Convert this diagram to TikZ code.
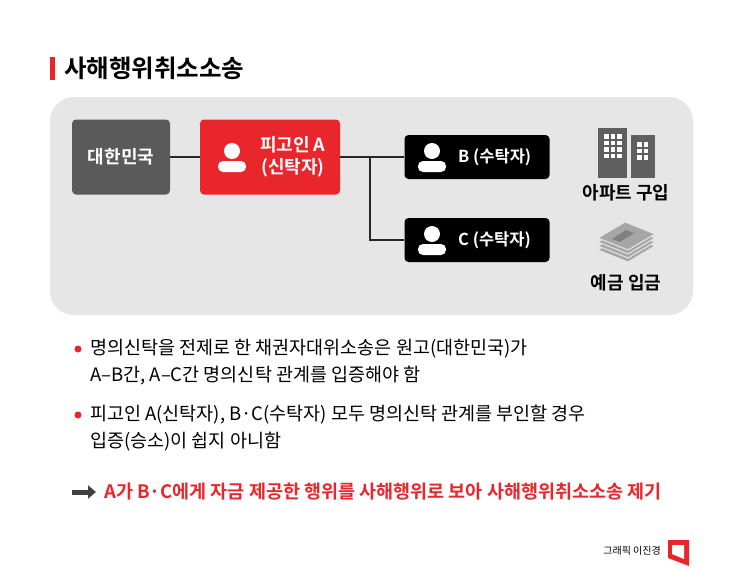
\documentclass[tikz,border=0pt]{standalone}
\usepackage{fontspec}
\setmainfont{Noto Sans CJK KR}[BoldFont={* Bold}]
\usepackage{tikz}
\usetikzlibrary{positioning,arrows.meta,calc}
\definecolor{hanred}{HTML}{E8262C}
\definecolor{boxdark}{HTML}{5A5A5A}
\definecolor{panel}{HTML}{E6E6E6}
\definecolor{icongray}{HTML}{5F5F5F}
\tikzset{
  party/.style={rectangle,rounded corners=4pt,minimum height=44pt,text=white,font=\bfseries\fontsize{18}{22}\selectfont,align=center},
  link/.style={line width=1.3pt,black!85},
  bulletline/.style={anchor=west,font=\fontsize{18.5}{22}\selectfont,inner sep=0pt}
}
\newcommand{\personicon}[1]{%
  \fill[white] ($(#1)+(0,-6)$) circle (8pt);
  \fill[white,rounded corners=5pt] ($(#1)+(-14,15)$) rectangle ($(#1)+(14,4)$);
}
\begin{document}
\begin{tikzpicture}[x=1pt,y=-1pt]
      % Cadre
      \useasboundingbox[fill=white] (0,0) rectangle (745,568);
      \fill[hanred] (50,57) rectangle (55,80);
      \node[anchor=west,font=\bfseries\fontsize{24.5}{26}\selectfont,inner sep=0pt] (titre) at (64,68) {사해행위취소소송};
      \fill[panel,rounded corners=24pt] (50,97) rectangle (693,315);

      % Les parties
      \node[party,fill=boxdark,minimum width=98pt,minimum height=75pt] (etat) at (121,157) {대한민국};
      \node[party,fill=hanred,minimum width=140pt,minimum height=75pt] (defA) at (270,157) {};
      \node[party,anchor=west,inner sep=0pt] (defAtxt) at (260,157) {피고인 A\\(신탁자)};
      \personicon{232,157}
      \node[party,fill=black,minimum width=145pt] (fidB) at (477,157) {};
      \node[party,anchor=west,inner sep=0pt,font=\bfseries\fontsize{16.5}{20}\selectfont] (fidBtxt) at (458,157) {B (수탁자)};
      \personicon{432,157}
      \node[party,fill=black,minimum width=145pt] (fidC) at (477,240) {};
      \node[party,anchor=west,inner sep=0pt,font=\bfseries\fontsize{16.5}{20}\selectfont] (fidCtxt) at (458,240) {C (수탁자)};
      \personicon{432,240}
      \coordinate (fork) at (370,157);

      % Liaisons
      \draw[link] (etat) -- (defA);
      \draw[link] (defA) -- (fork) -- (fidB);
      \draw[link] (fork) |- (fidC);

      % Icônes
      \fill[icongray] (598,128) rectangle (627,178);
      \fill[icongray] (631,135) rectangle (655,178);
      \foreach \i in {0,1,2} \foreach \j in {0,1,2,3}
        \fill[white] (604+\i*6.5,134+\j*6.5) rectangle +(4.5,4.5);
      \foreach \i in {0,1} \foreach \j in {0,1,2}
        \fill[white] (637+\i*6.5,142+\j*6.5) rectangle +(4.5,4.5);
      \node[font=\bfseries\fontsize{18}{20}\selectfont] (achat) at (626,193) {아파트 구입};
      \foreach \k in {0,1,2,3}
        \filldraw[fill=black!35,draw=panel,line width=1pt] (598,{250-\k*4}) -- (628,{262-\k*4}) -- (655,{246-\k*4}) -- (625,{234-\k*4}) -- cycle;
      \fill[black!50] (612,{239}) -- (620,242) -- (634,233) -- (626,230) -- cycle;
      \node[font=\bfseries\fontsize{18}{20}\selectfont] (depot) at (626,283) {예금 입금};

      % Texte
      \fill[hanred] (78,349) circle (3.5pt);
      \node[bulletline] (p1a) at (90,349) {명의신탁을 전제로 한 채권자대위소송은 원고(대한민국)가};
      \node[bulletline] (p1b) at (90,376) {A–B간, A–C간 명의신탁 관계를 입증해야 함};
      \fill[hanred] (78,415) circle (3.5pt);
      \node[bulletline] (p2a) at (90,415) {피고인 A(신탁자), B·C(수탁자) 모두 명의신탁 관계를 부인할 경우};
      \node[bulletline] (p2b) at (90,442) {입증(승소)이 쉽지 아니함};
      \draw[line width=5pt,black!75,-{Triangle[length=8pt,width=13pt]}] (72,492) -- (96,492);
      \node[bulletline,font=\bfseries\fontsize{18.5}{22}\selectfont,text=hanred] (concl) at (104,492) {A가 B·C에게 자금 제공한 행위를 사해행위로 보아 사해행위취소소송 제기};

      % Signature
      \node[anchor=east,font=\fontsize{10}{12}\selectfont,inner sep=0pt] (sig) at (661,551) {그래픽 이진경};
      \fill[hanred] (668,540) -- (689,540) -- (689,566) -- (668,558) -- cycle;
      \fill[white] (672,545) -- (684,545) -- (684,559) -- (672,554) -- cycle;
\end{tikzpicture}
\end{document}
